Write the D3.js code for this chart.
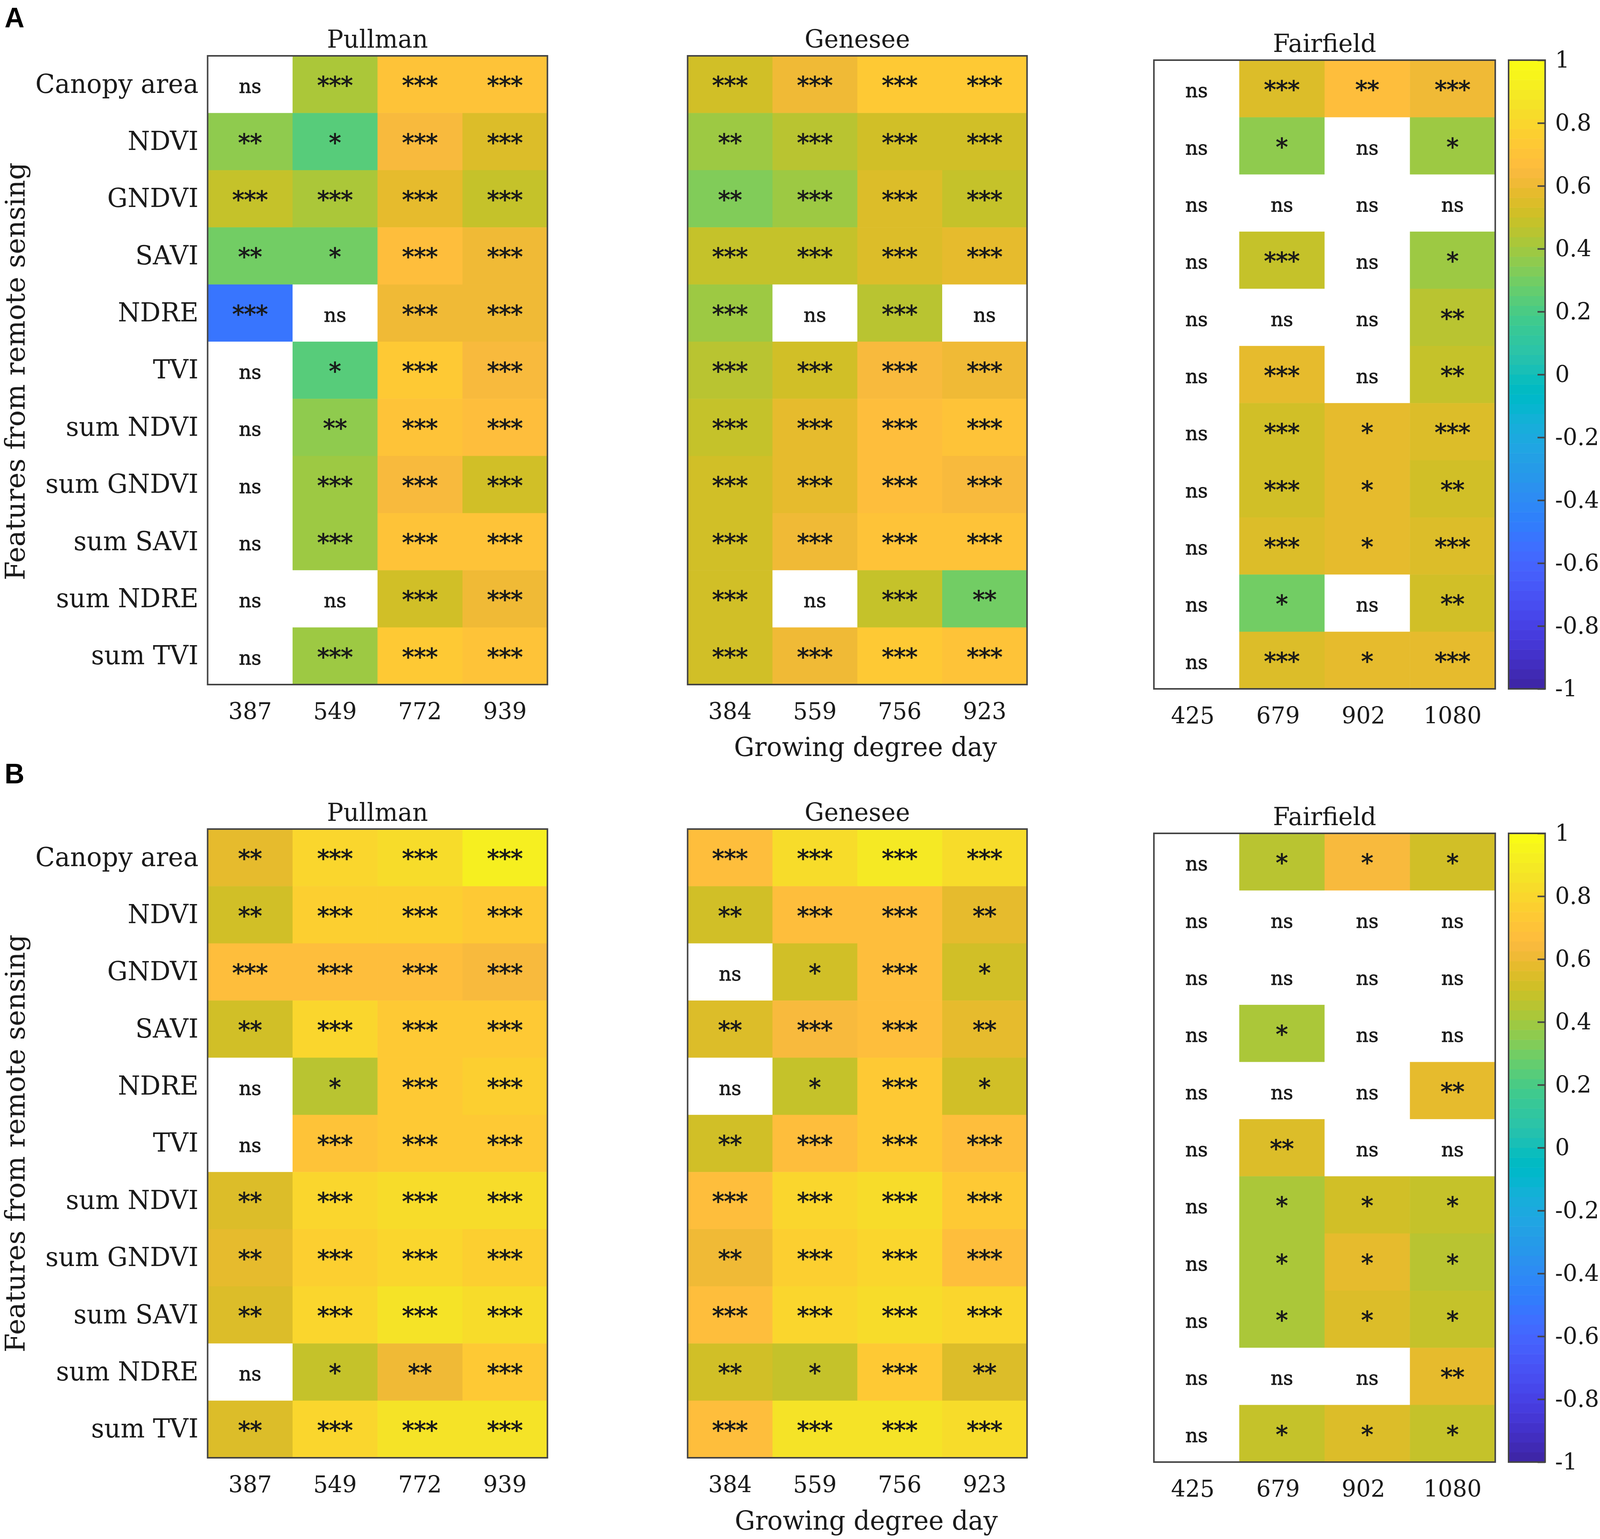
<!DOCTYPE html>
<html>
<head>
<meta charset="utf-8">
<script src="https://cdn.jsdelivr.net/npm/d3@7"></script>
<style>
html, body { margin: 0; background: #fff; overflow: hidden; }
svg { display: block; width: 100vw; height: 100vh; }
text { font-family: "DejaVu Serif", serif; fill: #1a1a1a; }
.mark { stroke: #1a1a1a; stroke-width: 1; }
</style>
</head>
<body>
<div id="chart"></div>
<script>
// row and column labels
var features = ["Canopy area", "NDVI", "GNDVI", "SAVI", "NDRE", "TVI", "sum NDVI", "sum GNDVI", "sum SAVI", "sum NDRE", "sum TVI"];
var gddPullman = ["387", "549", "772", "939"];
var gddGenesee = ["384", "559", "756", "923"];
var gddFairfield = ["425", "679", "902", "1080"];
var barTicks = [-1, -0.8, -0.6, -0.4, -0.2, 0, 0.2, 0.4, 0.6, 0.8, 1];

// correlation, null = not significant (white)
var pullmanA = [
    [null, .43, .70, .70], [.37, .24, .645, .56], [.49, .42, .58, .47], [.30, .30, .67, .62],
    [-.51, null, .61, .61], [null, .24, .73, .65], [null, .36, .70, .68], [null, .40, .645, .53],
    [null, .40, .70, .69], [null, null, .52, .61], [null, .40, .73, .70]];
var geneseeA = [
    [.52, .62, .73, .73], [.39, .46, .51, .50], [.34, .40, .54, .49], [.49, .49, .54, .58],
    [.40, null, .46, null], [.46, .50, .65, .60], [.47, .57, .68, .70], [.50, .57, .68, .65],
    [.52, .60, .70, .70], [.52, null, .48, .30], [.52, .62, .73, .70]];
var fairfieldA = [
    [null, .54, .67, .62], [null, .36, null, .38], [null, null, null, null], [null, .48, null, .40],
    [null, null, null, .46], [null, .57, null, .47], [null, .50, .57, .55], [null, .51, .57, .51],
    [null, .55, .57, .55], [null, .31, null, .50], [null, .55, .57, .57]];
var pullmanB = [
    [.57, .79, .84, .92], [.52, .77, .75, .735], [.66, .68, .68, .64], [.52, .79, .74, .72],
    [null, .46, .73, .75], [null, .71, .74, .72], [.55, .79, .84, .83], [.58, .77, .79, .76],
    [.54, .79, .86, .84], [null, .48, .62, .72], [.55, .79, .85, .85]];
var geneseeB = [
    [.66, .83, .90, .83], [.51, .66, .66, .58], [null, .52, .66, .50], [.55, .64, .66, .58],
    [null, .49, .73, .51], [.51, .66, .73, .66], [.66, .79, .84, .74], [.61, .77, .80, .67],
    [.66, .79, .83, .79], [.51, .47, .73, .55], [.66, .85, .85, .83]];
var fairfieldB = [
    [null, .46, .63, .52], [null, null, null, null], [null, null, null, null], [null, .43, null, null],
    [null, null, null, .59], [null, .56, null, null], [null, .43, .53, .49], [null, .43, .58, .46],
    [null, .43, .54, .49], [null, null, null, .59], [null, .47, .54, .48]];

// significance labels, same layout as the values
var starsPullmanA = ["ns *** *** ***", "** * *** ***", "*** *** *** ***", "** * *** ***", "*** ns *** ***", "ns * *** ***", "ns ** *** ***", "ns *** *** ***", "ns *** *** ***", "ns ns *** ***", "ns *** *** ***"];
var starsGeneseeA = ["*** *** *** ***", "** *** *** ***", "** *** *** ***", "*** *** *** ***", "*** ns *** ns", "*** *** *** ***", "*** *** *** ***", "*** *** *** ***", "*** *** *** ***", "*** ns *** **", "*** *** *** ***"];
var starsFairfieldA = ["ns *** ** ***", "ns * ns *", "ns ns ns ns", "ns *** ns *", "ns ns ns **", "ns *** ns **", "ns *** * ***", "ns *** * **", "ns *** * ***", "ns * ns **", "ns *** * ***"];
var starsPullmanB = ["** *** *** ***", "** *** *** ***", "*** *** *** ***", "** *** *** ***", "ns * *** ***", "ns *** *** ***", "** *** *** ***", "** *** *** ***", "** *** *** ***", "ns * ** ***", "** *** *** ***"];
var starsGeneseeB = ["*** *** *** ***", "** *** *** **", "ns * *** *", "** *** *** **", "ns * *** *", "** *** *** ***", "*** *** *** ***", "** *** *** ***", "*** *** *** ***", "** * *** **", "*** *** *** ***"];
var starsFairfieldB = ["ns * * *", "ns ns ns ns", "ns ns ns ns", "ns * ns ns", "ns ns ns **", "ns ** ns ns", "ns * * *", "ns * * *", "ns * * *", "ns ns ns **", "ns * * *"];

// MATLAB parula, 64 levels
var parula = [[.2422,.1504,.6603],[.2504,.165,.7076],[.2578,.1818,.7511],[.2647,.1978,.7952],[.2706,.2147,.8364],[.2751,.2342,.871],[.2783,.2559,.8991],[.2803,.2782,.9221],[.2813,.3006,.9414],[.281,.3228,.9579],[.2795,.3447,.9717],[.276,.3667,.9829],[.2699,.3892,.9906],[.2602,.4123,.9952],[.244,.4358,.9988],[.2206,.4603,.9973],[.1963,.4847,.9892],[.1834,.5074,.9798],[.1786,.5289,.9682],[.1764,.5499,.952],[.1687,.5703,.9359],[.154,.5902,.9218],[.146,.6091,.9079],[.138,.6276,.8973],[.1248,.6459,.8883],[.1113,.6635,.8763],[.0952,.6798,.8598],[.0689,.6948,.8394],[.0297,.7082,.8163],[.0036,.7203,.7917],[.0067,.7312,.766],[.0433,.7411,.7394],[.0964,.75,.712],[.1408,.7584,.6842],[.1717,.767,.6554],[.1938,.7758,.6251],[.2161,.7843,.5923],[.247,.7918,.5567],[.2906,.7973,.5188],[.3406,.8008,.4789],[.3909,.8029,.4354],[.4456,.8024,.3909],[.5044,.7993,.348],[.5616,.7942,.3045],[.6174,.7876,.2612],[.672,.7793,.2227],[.7242,.7698,.191],[.7738,.7598,.1646],[.8203,.7498,.1535],[.8634,.7406,.1596],[.9035,.733,.1774],[.9393,.7288,.21],[.9728,.7298,.2394],[.9956,.7434,.2371],[.997,.7659,.2199],[.9952,.7893,.2028],[.9892,.8136,.1885],[.9786,.8386,.1766],[.9676,.8639,.1643],[.961,.889,.1537],[.9597,.9135,.1423],[.9628,.9373,.1265],[.9691,.9606,.1064],[.9769,.9839,.0805]];

var svgWidth = 4200;
var svgHeight = 3941;
var labelSize = 67;
var tickSize = 60;
var frameColor = "#444";

var colorScale = d3.scaleQuantize()
    .domain([-1, 1])
    .range(parula.map(c => d3.rgb(c[0] * 255, c[1] * 255, c[2] * 255).formatHex()));

// the browser window can come out narrower than 4200, so fit the drawing to it
var svg = d3.select("#chart")
    .append("svg")
    .attr("viewBox", `0 0 ${svgWidth} ${svgHeight}`)
    .attr("preserveAspectRatio", "none");

function drawHeatmap(left, top, width, height, title, ticks, values, stars, showRows, tickShift) {
    var g = svg.append("g").attr("transform", `translate(${left}, ${top})`);
    var x = d3.scaleBand().domain(ticks).range([0, width]);
    var y = d3.scaleBand().domain(features).range([0, height]);

    var cells = [];
    features.forEach(function(f, r) {
        var labels = stars[r].split(" ");
        ticks.forEach(function(t, c) {
            cells.push({feature: f, tick: t, value: values[r][c], label: labels[c]});
        });
    });

    g.selectAll("rect.cell")
        .data(cells)
        .enter()
        .append("rect")
        .attr("class", "cell")
        .attr("x", d => x(d.tick))
        .attr("y", d => y(d.feature))
        .attr("width", x.bandwidth() + 0.5)
        .attr("height", y.bandwidth() + 0.5)
        .attr("fill", d => d.value === null ? "#fff" : colorScale(d.value));

    g.selectAll("text.mark")
        .data(cells)
        .enter()
        .append("text")
        .attr("class", "mark")
        .attr("x", d => x(d.tick) + x.bandwidth() / 2)
        .attr("y", d => y(d.feature) + y.bandwidth() / 2 + (d.label === "ns" ? 22 : 24))
        .attr("text-anchor", "middle")
        .style("font-size", d => d.label === "ns" ? "51px" : "62px")
        .text(d => d.label);

    g.append("rect")
        .attr("width", width)
        .attr("height", height)
        .attr("fill", "none")
        .attr("stroke", frameColor)
        .attr("stroke-width", 4);

    g.append("text")
        .attr("x", width / 2)
        .attr("y", -21)
        .attr("text-anchor", "middle")
        .style("font-size", "64px")
        .text(title);

    var bottomAxis = g.append("g")
        .attr("transform", `translate(0, ${height})`)
        .call(d3.axisBottom(x).tickSize(0).tickPadding(46));
    bottomAxis.select(".domain").remove();
    bottomAxis.selectAll("text")
        .attr("dx", (d, i) => i < 3 ? tickShift : 0)
        .style("font-size", tickSize + "px")
        .style("font-family", "\"DejaVu Serif\", serif");

    if (showRows) {
        var leftAxis = g.append("g")
            .call(d3.axisLeft(y).tickSize(0).tickPadding(24));
        leftAxis.select(".domain").remove();
        leftAxis.selectAll("text")
            .style("font-size", labelSize + "px")
            .style("font-family", "\"DejaVu Serif\", serif");
    }
}

function drawColorbar(left, top, width, height) {
    var g = svg.append("g").attr("transform", `translate(${left}, ${top})`);
    var y = d3.scaleLinear().domain([-1, 1]).range([height, 0]);

    g.selectAll("rect")
        .data(colorScale.range())
        .enter()
        .append("rect")
        .attr("x", 0)
        .attr("y", d => y(colorScale.invertExtent(d)[1]))
        .attr("width", width)
        .attr("height", d => y(colorScale.invertExtent(d)[0]) - y(colorScale.invertExtent(d)[1]) + 0.5)
        .attr("fill", d => d);

    g.append("rect")
        .attr("width", width)
        .attr("height", height)
        .attr("fill", "none")
        .attr("stroke", frameColor)
        .attr("stroke-width", 4);

    var axis = g.append("g")
        .attr("transform", `translate(${width}, 0)`)
        .call(d3.axisRight(y).tickValues(barTicks).tickFormat(String).tickSizeInner(-20).tickSizeOuter(0).tickPadding(28));
    axis.select(".domain").remove();
    axis.selectAll("line").attr("stroke", frameColor).attr("stroke-width", 4);
    axis.selectAll("text")
        .attr("x", 26)
        .style("font-size", tickSize + "px")
        .style("font-family", "\"DejaVu Serif\", serif");
}

function drawFigure(letter, letterY, topLeft, topRight, fy, xy, labelX, vals, stars) {
    svg.append("text")
        .attr("x", 12)
        .attr("y", letterY)
        .style("font-family", "\"Liberation Sans\", sans-serif")
        .style("font-weight", "bold")
        .style("font-size", "72px")
        .style("fill", "#000")
        .text(letter);

    drawHeatmap(545, topLeft, 892, 1610, "Pullman", gddPullman, vals[0], stars[0], true, 0);
    drawHeatmap(1805, topLeft, 891, 1610, "Genesee", gddGenesee, vals[1], stars[1], false, 0);
    drawHeatmap(3029, topRight, 896, 1610, "Fairfield", gddFairfield, vals[2], stars[2], false, -10);
    drawColorbar(3960, topRight, 96, 1610);

    svg.append("text")
        .attr("transform", `translate(65, ${fy}) rotate(-90)`)
        .attr("text-anchor", "middle")
        .style("font-size", "70px")
        .text("Features from remote sensing");

    svg.append("text")
        .attr("x", labelX)
        .attr("y", xy)
        .attr("text-anchor", "middle")
        .style("font-size", labelSize + "px")
        .text("Growing degree day");
}

drawFigure("A", 70, 143, 154, 951, 1936, 2272, [pullmanA, geneseeA, fairfieldA], [starsPullmanA, starsGeneseeA, starsFairfieldA]);
drawFigure("B", 2006, 2123, 2134, 2928, 3917, 2274, [pullmanB, geneseeB, fairfieldB], [starsPullmanB, starsGeneseeB, starsFairfieldB]);
</script>
</body>
</html>
